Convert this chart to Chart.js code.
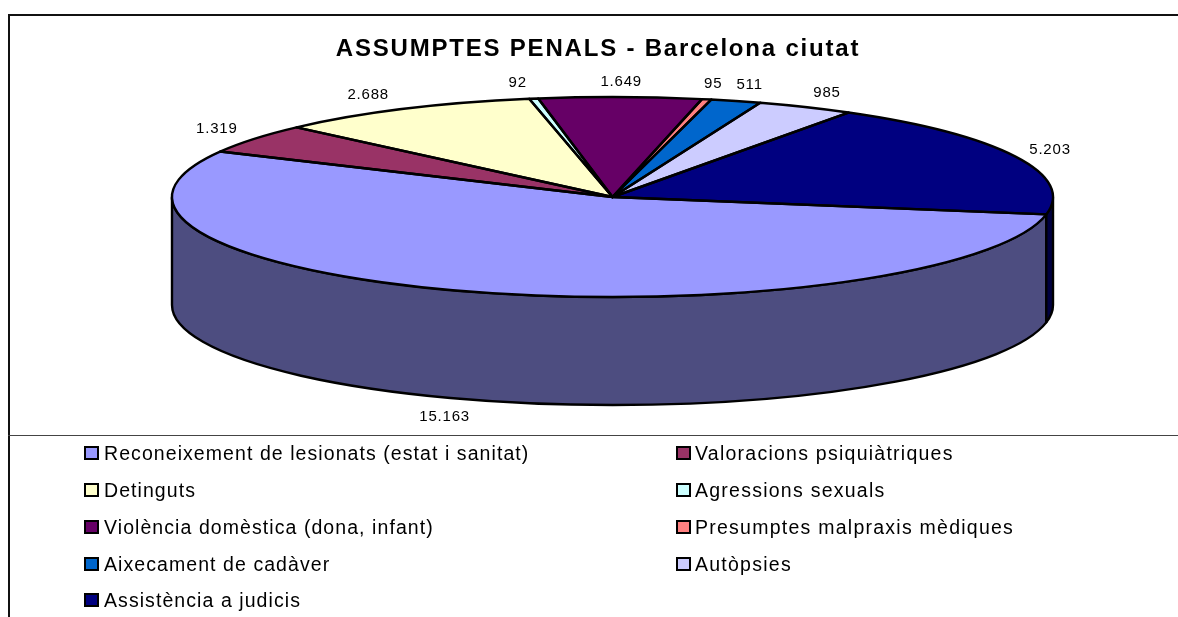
<!DOCTYPE html>
<html><head><meta charset="utf-8">
<script src="https://cdn.jsdelivr.net/npm/chart.js@4/dist/chart.umd.min.js"></script>
<style>
html,body{margin:0;padding:0;background:#fff;overflow:hidden;width:1178px;height:617px}
#c{position:absolute;left:18px;top:0}
.f{position:absolute;background:#111}
.leg{position:absolute;font:19.5px "Liberation Sans",Arial,sans-serif;letter-spacing:1.07px;color:#000;white-space:nowrap;line-height:20px}
.leg.c2{letter-spacing:1.25px}
.sw{position:absolute;width:11px;height:10px;border:2px solid #000}
</style></head><body>
<div class="f" style="left:8px;top:14px;width:1170px;height:1.5px"></div>
<div class="f" style="left:8px;top:14px;width:1.5px;height:603px"></div>
<div class="f" style="left:8px;top:435px;width:1170px;height:1.3px;background:#444"></div>
<canvas id="c" width="1160" height="617"></canvas>
<div id="legend"></div>
<script>
const titleText = "ASSUMPTES PENALS - Barcelona ciutat";
const categories = ["Reconeixement de lesionats (estat i sanitat)","Valoracions psiquiàtriques","Detinguts","Agressions sexuals","Violència domèstica (dona, infant)","Presumptes malpraxis mèdiques","Aixecament de cadàver","Autòpsies","Assistència a judicis"];
const values = [15163,1319,2688,92,1649,95,511,985,5203];
const valueLabels = ["15.163","1.319","2.688","92","1.649","95","511","985","5.203"];
const topColors = ["#9999FF","#993366","#FFFFCC","#CCFFFF","#660066","#FF8080","#0066CC","#CCCCFF","#000080"];
const sideColors = ["#4D4D80","#4D1A33","#808066","#668080","#330033","#804040","#003366","#666680","#000040"];
const labelOffsets = [[-28,125],[-37.5,-10],[-35,-14],[-16,-15.6],[1,-15],[6.6,-15],[13.7,-16],[21.5,-14],[34.5,-6.6]];

const CX = 594.5, CY = 197, RX = 440.5, RY = 100, DEPTH = 108, LW = 2.4;
const k = RY / RX;

function sidePieces(a, b){
  const out = [];
  for (const s of [0, 2*Math.PI, -2*Math.PI]) {
    const t0 = Math.max(a, s), t1 = Math.min(b, s + Math.PI);
    if (t1 > t0) out.push([t0, t1]);
  }
  return out;
}
const pie3d = {
  id: "pie3d",
  beforeDraw(chart){ chart.ctx.letterSpacing = "1.8px"; },
  beforeDatasetsDraw(chart){
    const ctx = chart.ctx, arcs = chart.getDatasetMeta(0).data;
    ctx.save();
    ctx.lineWidth = LW; ctx.strokeStyle = "#000"; ctx.lineJoin = "round";
    arcs.forEach((arc, i) => {
      sidePieces(arc.startAngle, arc.endAngle).forEach(([t0, t1]) => {
        ctx.beginPath();
        ctx.ellipse(CX, CY, RX, RY, 0, t0, t1);
        ctx.ellipse(CX, CY + DEPTH, RX, RY, 0, t1, t0, true);
        ctx.closePath();
        ctx.fillStyle = sideColors[i];
        ctx.fill(); ctx.stroke();
      });
    });
    ctx.restore();
    ctx.save();
    const a0 = arcs[0];
    ctx.translate(CX, CY); ctx.scale(1, k); ctx.translate(-a0.x, -a0.y);
  },
  afterDatasetsDraw(chart){
    const ctx = chart.ctx, arcs = chart.getDatasetMeta(0).data;
    ctx.restore();
    ctx.save();
    ctx.lineWidth = LW; ctx.strokeStyle = "#000"; ctx.lineJoin = "round";
    arcs.forEach(arc => {
      ctx.beginPath();
      ctx.moveTo(CX, CY);
      ctx.ellipse(CX, CY, RX, RY, 0, arc.startAngle, arc.endAngle);
      ctx.closePath();
      ctx.stroke();
    });
    ctx.fillStyle = "#000";
    ctx.letterSpacing = "0.8px";
    ctx.font = '15px "Liberation Sans", Arial, sans-serif';
    ctx.textAlign = "center"; ctx.textBaseline = "middle";
    arcs.forEach((arc, i) => {
      const m = (arc.startAngle + arc.endAngle) / 2;
      ctx.fillText(valueLabels[i], CX + RX*Math.cos(m) + labelOffsets[i][0], CY + RY*Math.sin(m) + labelOffsets[i][1]);
    });
    ctx.restore();
  }
};
new Chart(document.getElementById("c"), {
  type: "pie",
  data: { labels: categories, datasets: [{ data: values, backgroundColor: topColors, borderWidth: 0, clip: false, radius: RX }] },
  options: {
    responsive: false, animation: false, rotation: 100,
    events: [],
    layout: { padding: 0 },
    plugins: {
      legend: { display: false }, tooltip: { enabled: false },
      title: { display: true, text: titleText, color: "#000", padding: { top: 35, bottom: 10 },
        font: { family: '"Liberation Sans", Arial, sans-serif', size: 24, weight: "bold" } }
    }
  },
  plugins: [pie3d]
});
const legendEl = document.getElementById("legend");
const rowY = [453, 490, 527, 563.5, 600];
categories.forEach((name, i) => {
  const col = i % 2, row = Math.floor(i / 2);
  const sw = document.createElement("div");
  sw.className = "sw"; sw.style.background = topColors[i];
  sw.style.left = (col ? 676 : 84) + "px"; sw.style.top = (rowY[row] - 7) + "px";
  const t = document.createElement("div");
  t.className = col ? "leg c2" : "leg"; t.textContent = name;
  t.style.left = (col ? 695 : 104) + "px"; t.style.top = (rowY[row] - 10) + "px";
  legendEl.append(sw, t);
});
</script>
</body></html>
